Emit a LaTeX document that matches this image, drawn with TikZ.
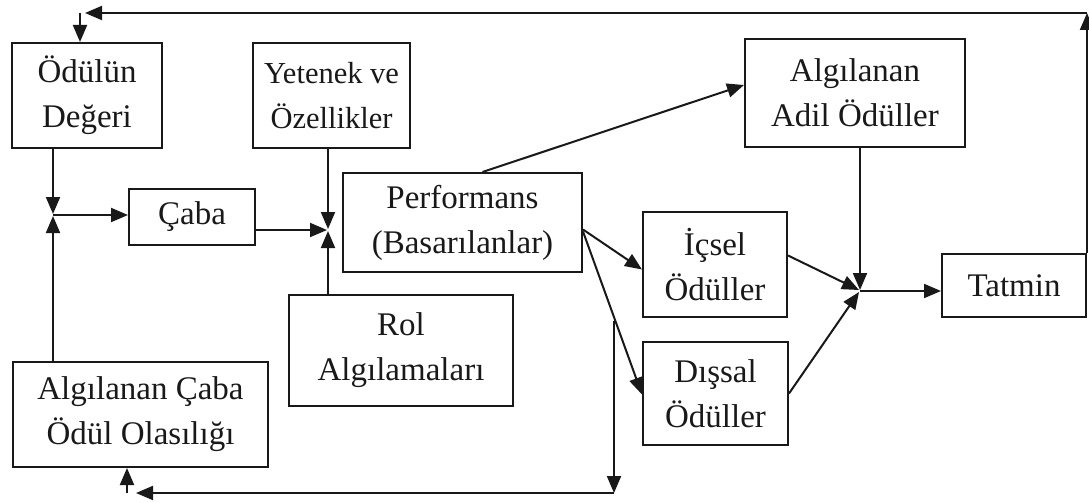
\documentclass[tikz,border=0pt]{standalone}
\usepackage{fontspec}
\setmainfont{Liberation Serif}
\usetikzlibrary{arrows.meta}
\begin{document}
\begin{tikzpicture}[x=1pt,y=-1pt,
  box/.style={draw=black!90,line width=2pt,inner sep=0pt,align=center,
    font=\fontsize{33}{45}\selectfont,text=black!90},
  conn/.style={draw=black!90,line width=2pt,-{Triangle[length=17pt,width=14pt]}},
  plain/.style={draw=black!90,line width=2pt}]
\useasboundingbox (0,0) rectangle (1089,503);
% boxes
\node[box,minimum width=150pt,minimum height=105pt] (odul) at (87,95.5) {Ödülün\\Değeri};
\node[box,minimum width=157pt,minimum height=105pt,font=\fontsize{30.5}{45}\selectfont] (yet) at (331.5,95.5) {Yetenek ve\\Özellikler};
\node[box,minimum width=220pt,minimum height=108pt] (adil) at (855,93) {Algılanan\\Adil Ödüller};
\node[box,minimum width=126pt,minimum height=56pt] (caba) at (192,217) {Çaba};
\node[box,minimum width=239pt,minimum height=99pt] (perf) at (462.5,222.5) {Performans\\(Basarılanlar)};
\node[box,minimum width=144pt,minimum height=105pt] (icsel) at (715,264.5) {İçsel\\Ödüller};
\node[box,minimum width=145pt,minimum height=103pt] (dissal) at (715.5,393.5) {Dışsal\\Ödüller};
\node[box,minimum width=144pt,minimum height=63pt] (tatmin) at (1014,285.5) {Tatmin};
\node[box,minimum width=224pt,minimum height=111pt] (rol) at (401,350.5) {Rol\\Algılamaları};
\node[box,minimum width=255pt,minimum height=105pt] (algc) at (140.5,414.5) {Algılanan Çaba\\Ödül Olasılığı};
% junctions and routing points
\coordinate (J1) at (53,215);
\coordinate (J2) at (328,230);
\coordinate (J3) at (860,291);
\coordinate (TR) at (1087,13);
\coordinate (TL) at (80,13);
\coordinate (B0) at (614,321);
\coordinate (B1) at (614,493);
\coordinate (B2) at (127,493);
% left junction
\draw[conn] (odul.south -| J1) -- ([yshift=1pt]J1);
\draw[conn] (algc.north -| J1) -- ([yshift=-1pt]J1);
\draw[conn] (J1) -- (caba.west |- J1);
% middle junction
\draw[conn] (caba.east |- J2) -- ([xshift=-1pt]J2);
\draw[conn] (yet.south -| J2) -- ([yshift=1pt]J2);
\draw[conn] (rol.north -| J2) -- ([yshift=-1pt]J2);
% from performance
\draw[conn] ([xshift=20pt]perf.north) -- ([yshift=8pt]adil.west);
\draw[conn] ([yshift=-7pt]perf.east) -- ([yshift=-5pt]icsel.west);
\draw[conn] ([yshift=-9pt]perf.east) -- ([yshift=-1pt]dissal.west);
% right junction
\draw[conn] (adil.south -| J3) -- ([yshift=1pt]J3);
\draw[conn] ([yshift=9pt]icsel.east) -- ([xshift=-1pt,yshift=1pt]J3);
\draw[conn] (dissal.east) -- ([xshift=-1pt,yshift=-1pt]J3);
\draw[conn] (J3) -- (tatmin.west |- J3);
% top feedback
\draw[conn] (tatmin.north east) -- (TR);
\draw[conn] (TR) -- ([xshift=5pt]TL);
\draw[conn] (TL) -- (odul.north -| TL);
% bottom feedback
\draw[conn] (B0) -- (B1);
\draw[conn] (B1) -- ([xshift=9pt]B2);
\draw[conn] (B2) -- (algc.south -| B2);
\end{tikzpicture}
\end{document}
